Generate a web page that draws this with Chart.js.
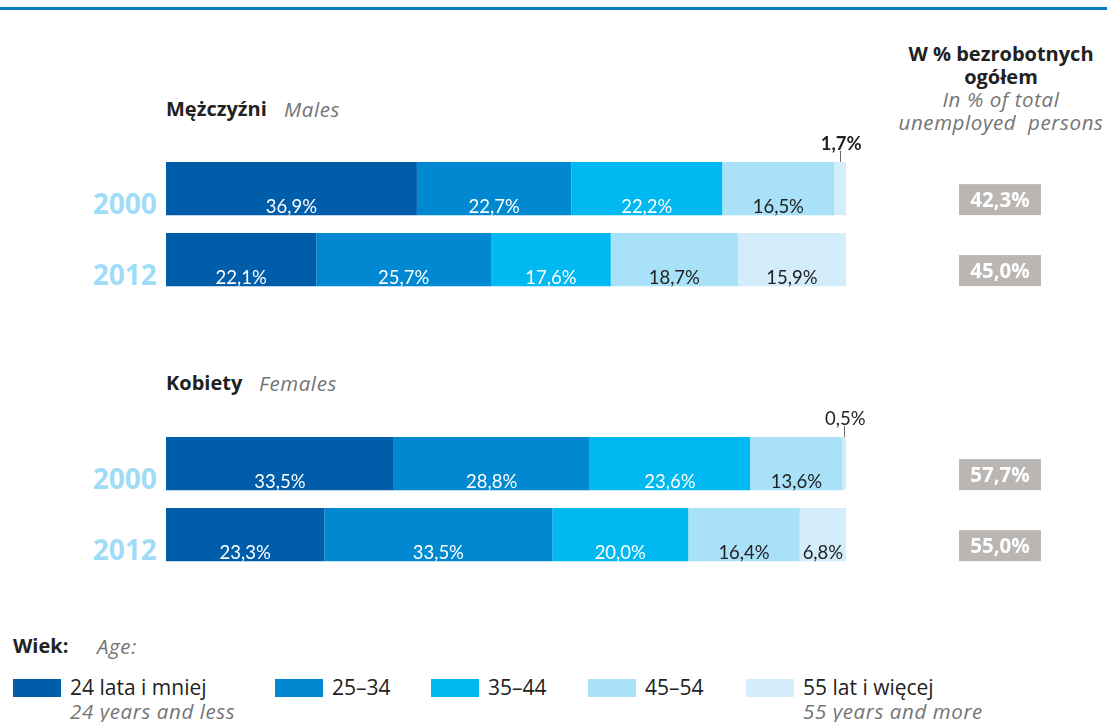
<!DOCTYPE html>
<html lang="pl">
<head>
<meta charset="utf-8">
<script src="https://cdn.jsdelivr.net/npm/chart.js@4.4.1/dist/chart.umd.min.js"></script>
<style>
    body { margin: 0; background: #fff; font-family: "Open Sans", Lato, sans-serif; color: #222; }
    #page { position: relative; width: 1107px; height: 722px; overflow: hidden; }
    .topline { position: absolute; left: 0; top: 7px; width: 1107px; height: 3px; background: #0a79c4; }
    .txt { position: absolute; white-space: nowrap; font-size: 21px; line-height: 24px; }
    .b { font-weight: bold; color: #222; font-size: 20px; }
    .i { font-style: italic; color: #747474; letter-spacing: 0.6px; font-size: 20.5px; }
    .head { position: absolute; left: 880px; top: 43px; width: 242px; text-align: center; line-height: 22.5px; }
    .sw { position: absolute; width: 48px; height: 18px; }
    canvas { position: absolute; left: 0; }
</style>
</head>
<body>
<div id="page">
    <div class="topline"></div>

    <div class="head">
        <div class="b">W % bezrobotnych</div>
        <div class="b">ogółem</div>
        <div class="i">In % of total</div>
        <div class="i">unemployed&nbsp; persons</div>
    </div>

    <div class="txt b" style="left:166px; top:97px;">Mężczyźni</div>
    <div class="txt i" style="left:284px; top:97px;">Males</div>
    <div class="txt b" style="left:166px; top:371px;">Kobiety</div>
    <div class="txt i" style="left:259px; top:371px;">Females</div>

    <canvas id="malesChart" width="1107" height="180" style="top:130px;"></canvas>
    <canvas id="femalesChart" width="1107" height="180" style="top:405px;"></canvas>

    <div class="txt b" style="left:13px; top:634px;">Wiek:</div>
    <div class="txt i" style="left:97px; top:634px;">Age:</div>
    <div id="legend"></div>
</div>

<script>
// age groups (legend) and years (bars)
const ageGroups = ['24 lata i mniej', '25–34', '35–44', '45–54', '55 lat i więcej'];
const ageGroupsEn = ['24 years and less', '', '', '', '55 years and more'];
const ageColors = ['#005daa', '#0088d0', '#00b9f0', '#a9e1f9', '#d3eefa'];
const years = ['2000', '2012'];

// structure of the unemployed by age, %
const males2000 = [36.9, 22.7, 22.2, 16.5, 1.7];
const males2012 = [22.1, 25.7, 17.6, 18.7, 15.9];
const females2000 = [33.5, 28.8, 23.6, 13.6, 0.5];
const females2012 = [23.3, 33.5, 20.0, 16.4, 6.8];

// share in total unemployed, %
const malesShare = [42.3, 45.0];
const femalesShare = [57.7, 55.0];

function fmt(v) {
    return v.toFixed(1).replace('.', ',') + '%';
}

// labels inside bars, year labels on the left, grey boxes on the right
const barLabels = {
    id: 'barLabels',
    afterDatasetsDraw(chart, args, opts) {
        const ctx = chart.ctx;
        ctx.save();
        chart.data.datasets.forEach((ds, i) => {
            chart.getDatasetMeta(i).data.forEach((bar, j) => {
                const p = bar.getProps(['x', 'y', 'base', 'height'], true);
                const v = ds.data[j];
                const top = p.y - p.height / 2;
                const bottom = p.y + p.height / 2;
                const mid = (p.base + p.x) / 2;
                ctx.textAlign = 'center';
                ctx.textBaseline = 'alphabetic';
                if (v < 3) {
                    // tiny segment: label above with a small leader line
                    ctx.strokeStyle = '#666';
                    ctx.lineWidth = 1;
                    ctx.beginPath();
                    ctx.moveTo(Math.round(mid) + 0.5, top - 11);
                    ctx.lineTo(Math.round(mid) + 0.5, top);
                    ctx.stroke();
                    ctx.font = (opts.smallBold ? 'bold ' : '') + '18.5px Lato, sans-serif';
                    ctx.fillStyle = '#222';
                    ctx.fillText(fmt(v), mid + 1, top - 12);
                } else {
                    ctx.font = '18.5px Lato, sans-serif';
                    ctx.fillStyle = i < 3 ? '#fff' : '#222';
                    ctx.fillText(fmt(v), mid, bottom - 2);
                }
            });
        });

        chart.getDatasetMeta(0).data.forEach((bar, j) => {
            const p = bar.getProps(['y', 'height'], true);
            const bottom = p.y + p.height / 2;
            // year
            ctx.font = 'bold 28px "Open Sans", sans-serif';
            ctx.fillStyle = '#9fdcf8';
            ctx.textAlign = 'right';
            ctx.textBaseline = 'alphabetic';
            ctx.fillText(chart.data.labels[j], 157, bottom - 1);
            // share box
            ctx.fillStyle = '#bab6b3';
            ctx.fillRect(959, bottom - 31, 82, 31);
            ctx.font = 'bold 20.5px "Open Sans", sans-serif';
            ctx.fillStyle = '#fff';
            ctx.textAlign = 'center';
            ctx.fillText(fmt(opts.share[j]), 1000, bottom - 8.5);
        });
        ctx.restore();
    }
};

function makeChart(id, rows, share, smallBold) {
    const datasets = ageGroups.map((name, k) => ({
        label: name,
        data: rows.map(r => r[k]),
        backgroundColor: ageColors[k],
        borderWidth: 0,
        barPercentage: 1,
        categoryPercentage: 0.75
    }));
    return new Chart(document.getElementById(id).getContext('2d'), {
        type: 'bar',
        data: { labels: years, datasets: datasets },
        options: {
            indexAxis: 'y',
            responsive: false,
            animation: false,
            layout: { padding: { left: 166, right: 261, top: 23, bottom: 15 } },
            scales: {
                x: { stacked: true, min: 0, max: 100, display: false },
                y: { stacked: true, display: false }
            },
            plugins: {
                legend: { display: false },
                tooltip: { enabled: false },
                barLabels: { share: share, smallBold: smallBold }
            }
        },
        plugins: [barLabels]
    });
}

makeChart('malesChart', [males2000, males2012], malesShare, true);
makeChart('femalesChart', [females2000, females2012], femalesShare, false);

// legend
const legendX = [13, 275, 431, 588, 746];
const legend = document.getElementById('legend');
ageGroups.forEach((name, k) => {
    const sw = document.createElement('div');
    sw.className = 'sw';
    sw.style.left = legendX[k] + 'px';
    sw.style.top = '679px';
    sw.style.background = ageColors[k];
    legend.appendChild(sw);

    const t = document.createElement('div');
    t.className = 'txt';
    t.style.left = (legendX[k] + 57) + 'px';
    t.style.top = '675px';
    t.textContent = name;
    legend.appendChild(t);

    if (ageGroupsEn[k]) {
        const e = document.createElement('div');
        e.className = 'txt i';
        e.style.left = (legendX[k] + 57) + 'px';
        e.style.top = '699px';
        e.textContent = ageGroupsEn[k];
        legend.appendChild(e);
    }
});
</script>
</body>
</html>
